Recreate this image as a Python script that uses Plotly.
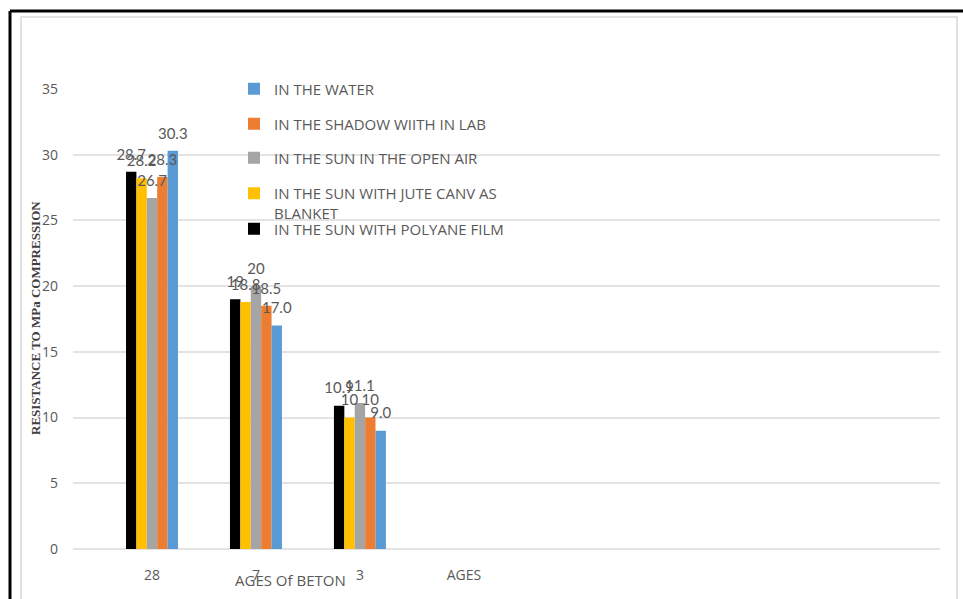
import plotly.graph_objects as go

# Curing ages (category axis); the last entry is a label-only category
ages = ["28", "7", "3", "AGES"]
bar_ages = ["28", "7", "3"]

# Compressive strength (MPa) per curing condition at each age
polyane_film = [28.7, 19.0, 10.9]
jute_blanket = [28.2, 18.8, 10.0]
open_air_sun = [26.7, 20.0, 11.1]
lab_shadow = [28.3, 18.5, 10.0]
water = [30.3, 17.0, 9.0]

# Data labels as printed above each bar
polyane_labels = ["28.7", "19", "10.9"]
jute_labels = ["28.2", "18.8", "10"]
open_air_labels = ["26.7", "20", "11.1"]
shadow_labels = ["28.3", "18.5", "10"]
water_labels = ["30.3", "17.0", "9.0"]

y_ticks = [0, 5, 10, 15, 20, 25, 30, 35]

series = [
    ("IN THE SUN WITH POLYANE FILM", polyane_film, polyane_labels, "#000000", "legend5", "middle"),
    ("IN THE SUN WITH JUTE CANV AS<br>BLANKET", jute_blanket, jute_labels, "#FFC000", "legend4", "top"),
    ("IN THE SUN IN THE OPEN AIR", open_air_sun, open_air_labels, "#A5A5A5", "legend3", "middle"),
    ("IN THE SHADOW WIITH IN LAB", lab_shadow, shadow_labels, "#ED7D31", "legend2", "middle"),
    ("IN THE WATER", water, water_labels, "#5B9BD5", "legend", "middle"),
]

# Plot-area geometry in pixels
W, H = 963, 599
L, R, T, B = 73, 23, 89, 50
PW, PH = W - L - R, H - T - B


def px_x(px):
    return (px - L) / PW


def px_y(py):
    return (H - B - py) / PH


fig = go.Figure()

for name, vals, labs, color, leg, _ in series:
    fig.add_trace(go.Bar(
        x=bar_ages, y=vals, name=name, marker_color=color,
        marker_line_width=0, legend=leg, hoverinfo="skip",
    ))

# Value labels, grouped the same way as the bars
for name, vals, labs, color, leg, _ in series:
    fig.add_trace(go.Scatter(
        x=bar_ages, y=vals, text=labs, mode="markers+text",
        textposition="top center",
        marker=dict(size=12, color="rgba(0,0,0,0)"),
        textfont=dict(family="Lato", size=15, color="#595959"),
        showlegend=False, hoverinfo="skip", cliponaxis=False,
    ))

legend_rows = {"legend": 89, "legend2": 124, "legend3": 158, "legend4": 203, "legend5": 229}
legend_common = dict(
    x=px_x(234), xanchor="left", yanchor="middle",
    bgcolor="rgba(0,0,0,0)",
    font=dict(family="Open Sans", size=15, color="#595959"),
    itemwidth=30,
)
leg_layout = {}
for name, vals, labs, color, leg, valign in series:
    leg_layout[leg] = dict(legend_common, y=px_y(legend_rows[leg]), valign=valign)

fig.update_layout(
    width=W, height=H,
    margin=dict(l=L, r=R, t=T, b=B),
    paper_bgcolor="white", plot_bgcolor="white",
    barmode="group", bargap=0.5, bargroupgap=0,
    scattermode="group", scattergap=0.5,
    showlegend=True,
    **leg_layout,
    xaxis=dict(
        type="category", categoryorder="array", categoryarray=ages,
        tickvals=ages, ticktext=ages,
        range=[-0.76, 7.58],
        showgrid=False, showline=False, zeroline=False,
        ticks="", ticklabelstandoff=16,
        tickfont=dict(family="Open Sans", size=14, color="#595959"),
    ),
    yaxis=dict(
        range=[0, 35], tickvals=y_ticks,
        showgrid=True, gridcolor="#E3E3E3", gridwidth=1.5,
        zeroline=True, zerolinecolor="#E3E3E3", zerolinewidth=1.5,
        showline=False, ticks="", ticklabelstandoff=14,
        tickfont=dict(family="Open Sans", size=14, color="#595959"),
    ),
    annotations=[
        dict(text="<b>RESISTANCE TO MPa COMPRESSION</b>", xref="paper", yref="paper",
             x=px_x(35), y=px_y(318), textangle=-90, showarrow=False,
             font=dict(family="Liberation Serif", size=13, color="#404040"),
             xanchor="center", yanchor="middle"),
        dict(text="AGES Of BETON", xref="paper", yref="paper",
             x=px_x(290), y=px_y(580), showarrow=False,
             font=dict(family="Open Sans", size=15, color="#595959"),
             xanchor="center", yanchor="middle"),
    ],
    shapes=[
        # outer frame (top and left edges visible)
        dict(type="line", xref="paper", yref="paper",
             x0=px_x(10), x1=px_x(963), y0=px_y(11), y1=px_y(11),
             line=dict(color="black", width=3)),
        dict(type="line", xref="paper", yref="paper",
             x0=px_x(10), x1=px_x(10), y0=px_y(11), y1=px_y(599),
             line=dict(color="black", width=3)),
        # inner chart border
        dict(type="rect", xref="paper", yref="paper",
             x0=px_x(21), x1=px_x(957), y0=px_y(17), y1=px_y(603),
             line=dict(color="#D9D9D9", width=1.5), layer="below"),
    ],
)

fig.write_html("out.html")
